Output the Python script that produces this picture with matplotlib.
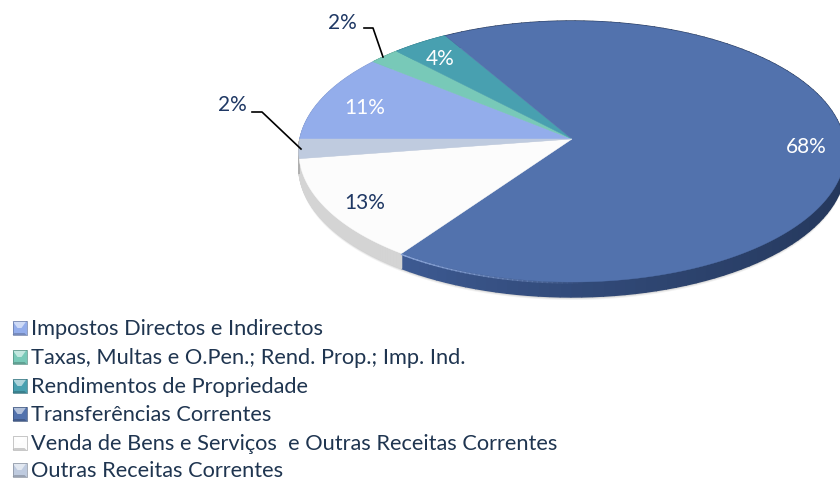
import numpy as np
import matplotlib.pyplot as plt
from matplotlib.colors import to_rgb

plt.rcParams['font.family'] = ['Lato', 'DejaVu Sans']

# Data
categories = ['Impostos Directos e Indirectos',
              'Taxas, Multas e O.Pen.; Rend. Prop.; Imp. Ind.',
              'Rendimentos de Propriedade',
              'Transferências Correntes',
              'Venda de Bens e Serviços  e Outras Receitas Correntes',
              'Outras Receitas Correntes']
values = [10.9, 2.0, 3.7, 68.2, 12.8, 2.4]
colors = ['#93adeb', '#78c9b8', '#48a0b0', '#5272ad', '#fcfcfc', '#bfcbdf']
side_colors = ['#8da4d8', '#6fb5a6', '#3f8c9b', '#2f4674', '#d4d4d4', '#b0b0b0']
label_colors = ['white', '#1f3864', 'white', 'white', '#1f3864', '#1f3864']
label_xy = [(365, 108), (342, 23), (440, 59), (806, 147), (365, 203), (232, 105)]

# projected pie geometry, in pixels
cx, cy = 572, 140
rx, ry = 272, 129.3
k = 0.0958
depth = 15


def project(theta):
    u, v = np.cos(theta), np.sin(theta)
    d = 1 + k * v
    return cx + rx * u / d, cy - ry * v / d


def shade(c1, c2, t):
    a, b = np.array(to_rgb(c1)), np.array(to_rgb(c2))
    return tuple(a + (b - a) * t)


fig = plt.figure(figsize=(8.4, 4.81), dpi=100)
ax = fig.add_axes([0, 0, 1, 1])
ax.set_xlim(0, 840)
ax.set_ylim(481, 0)
ax.axis('off')

fractions = np.cumsum([0] + values) / sum(values)
angles = np.pi - 2 * np.pi * fractions   # clockwise from 9 o'clock

# soft shadow under the disc
t = np.linspace(0, 2 * np.pi, 400)
ex, ey = project(t)
for off, alpha in [(depth + 3, 0.05), (depth + 2, 0.07), (depth + 1, 0.09)]:
    ax.fill(ex, ey + off, color='black', alpha=alpha, lw=0, zorder=1)

# rim of the disc, one slice at a time
for i in range(len(values)):
    th = np.linspace(angles[i], angles[i + 1], 120)
    x, y = project(th)
    for j in range(len(th) - 1):
        c = side_colors[i]
        if i == 3:
            c = shade('#1f3050', '#3d5a92', (j / (len(th) - 2)) ** 3)
        ax.fill([x[j], x[j + 1], x[j + 1], x[j]],
                [y[j], y[j + 1], y[j + 1] + depth, y[j] + depth],
                color=c, lw=1, zorder=2)

# top face
for i in range(len(values)):
    th = np.linspace(angles[i], angles[i + 1], 200)
    x, y = project(th)
    ax.fill(np.r_[cx, x], np.r_[cy, y], color=colors[i], lw=0.3, zorder=3)

# light edge on the lower left part of the big slice, fading out
th = np.linspace(angles[4], angles[4] + 0.65, 40)
x, y = project(th)
for j in range(len(th) - 1):
    ax.plot(x[j:j + 2], y[j:j + 2] + 1, color='#8aa5d8', lw=1,
            alpha=1 - j / (len(th) - 1), zorder=4)

# leader lines
ax.plot([364, 373, 383], [29, 29, 58], color='black', lw=1.2, zorder=5)
ax.plot([252, 262, 301], [113, 113, 150], color='black', lw=1.2, zorder=5)

# slice labels
for v, c, (lx, ly) in zip(values, label_colors, label_xy):
    ax.text(lx, ly, f'{v:.0f}%', color=c, fontsize=15, ha='center', va='center', zorder=6)

# legend, drawn by hand to get the bevelled keys
leg_y = [329, 358, 387, 415, 444, 471]
s = 7
for name, c, y in zip(categories, colors, leg_y):
    x = 19.5
    ax.fill([x - s, x + s, x + s, x - s], [y - s, y - s, y + s, y + s], color=c, lw=0, zorder=5)
    ax.fill([x - s, x + s, x + 2, x - 2], [y - s, y - s, y, y],
            color=shade(c, 'white', 0.55), lw=0, zorder=6)
    ax.fill([x - s, x + s, x + 5, x - 5], [y + s, y + s, y + 5, y + 5],
            color=shade(c, 'black', 0.2), lw=0, zorder=6)
    ax.fill([x - s, x + s, x + s, x - s], [y - s, y - s, y + s, y + s], fc='none', ec=shade(c, 'black', 0.3), lw=0.5, zorder=7)
    ax.text(31, y, name, color='#1f3550', fontsize=15.7, ha='left', va='center', zorder=6)

fig.savefig('out.png', dpi=100)
